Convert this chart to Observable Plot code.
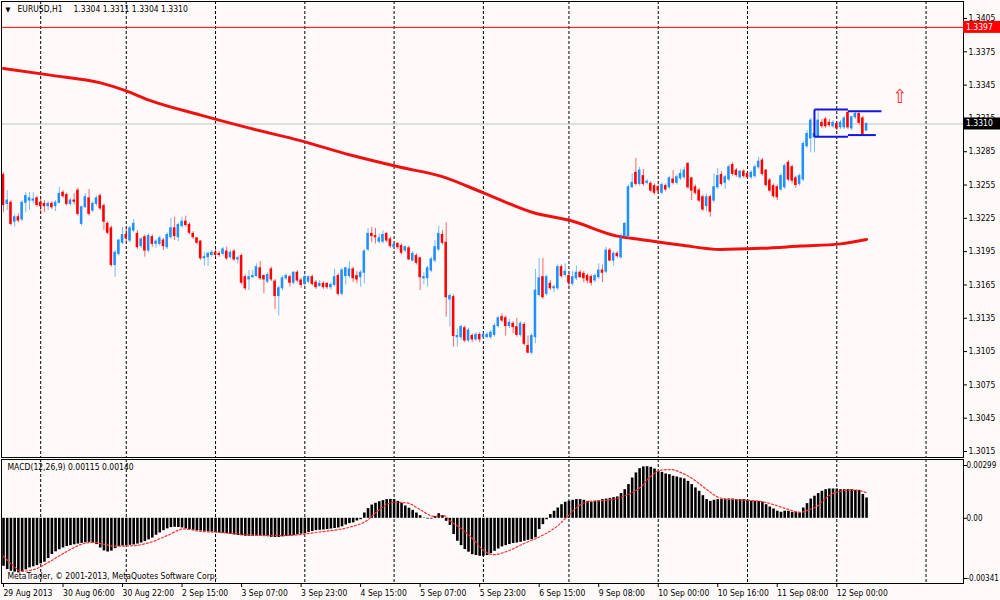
<!DOCTYPE html>
<html><head><meta charset="utf-8">
<script src="https://cdn.jsdelivr.net/npm/d3@7"></script>
<script src="https://cdn.jsdelivr.net/npm/@observablehq/plot@0.6"></script>
<style>
body{margin:0;background:#fffafa;}
#chart{width:1000px;height:600px;overflow:hidden;background:#fffafa;}
#chart svg{display:block;}
</style></head><body><div id="chart"></div>
<script>
// ---- data (prices in pips above 1.3000) ----
const openP = [264,238,239,222,226,224,239,241,241,243,239,238,236,238,236,239,248,246,238,241,250,220,235,243,232,238,245,236,220,216,183,193,203,210,205,214,211,200,208,196,208,202,202,205,199,208,216,208,218,222,219,211,207,204,189,190,192,194,193,193,195,190,195,188,
191,172,170,172,173,180,173,168,179,168,155,162,171,172,167,176,169,166,168,172,167,164,166,166,163,165,173,157,173,173,179,173,172,176,197,211,209,204,204,211,206,199,202,200,196,198,187,191,189,171,171,178,187,197,210,203,152,154,
118,118,126,115,119,116,120,118,118,118,120,128,136,135,128,130,127,120,129,110,104,118,156,172,157,166,162,162,181,174,173,166,171,176,175,173,172,169,172,178,177,196,187,193,190,209,209,253,266,256,263,257,256,254,253,248,254,253,260,257,261,262,274,261,253,250,244,236,244,241,253,264,257,260,273,268,262,267,265,262,263,271,277,268,259,254,253,251,253,275,271,261,256,260,290,297,298,299,311,314,311,308,310,307,307,320,306,316,319,315,304];
const highP = [266,250,241,228,229,241,248,248,248,245,242,241,240,240,241,253,250,248,243,247,252,236,247,251,240,245,247,238,222,218,196,206,217,216,218,224,214,208,210,211,210,206,209,207,212,225,226,221,226,227,221,213,208,205,194,195,196,197,195,199,199,196,197,191,
193,174,178,178,184,186,174,176,181,170,164,173,175,174,177,178,171,174,173,174,169,169,168,167,167,179,175,180,181,186,181,177,178,197,216,217,216,211,214,212,208,203,203,202,200,200,195,193,190,176,182,190,205,218,214,221,157,156,
125,129,128,126,121,122,122,122,122,124,130,137,139,137,134,132,135,132,131,119,121,179,189,189,174,169,165,183,183,184,175,177,182,178,177,175,174,175,184,183,199,198,195,195,211,221,255,265,279,271,269,260,258,256,255,257,256,263,268,264,269,271,275,262,255,252,246,247,246,265,270,267,264,273,275,270,268,269,267,268,273,280,279,269,261,256,255,265,274,277,273,263,265,294,304,315,320,321,314,316,314,313,312,313,317,321,317,321,320,317,311];
const lowP = [230,232,218,217,221,222,230,232,238,235,230,230,232,233,231,238,243,236,236,237,227,218,234,227,230,236,232,214,210,181,172,191,201,203,203,212,197,198,190,194,199,198,200,196,197,206,205,204,216,217,210,206,201,187,182,182,190,190,190,191,187,188,186,184,
165,160,160,171,172,169,157,166,168,143,137,160,169,163,165,167,162,164,166,164,161,163,161,161,160,163,155,155,165,171,167,166,163,166,195,203,202,202,202,203,198,197,197,192,194,187,186,183,160,165,163,176,185,195,201,136,127,109,
109,115,113,113,113,114,113,116,117,116,118,126,131,119,126,121,118,118,110,103,102,112,154,152,155,160,158,160,171,172,163,164,169,171,167,166,164,167,170,167,175,186,182,189,188,207,207,252,254,254,254,255,248,246,247,246,249,251,255,255,259,260,251,241,246,239,231,231,226,239,251,254,251,258,263,262,260,261,260,260,261,269,263,253,248,243,241,249,251,258,256,252,254,258,288,284,284,297,306,306,307,306,304,305,305,305,304,314,309,299,304];
const closeP = [237,241,220,226,223,239,245,243,242,237,236,236,238,235,239,247,245,238,241,240,229,235,244,229,238,243,234,222,212,183,194,205,210,207,216,220,199,206,196,209,202,204,207,200,210,216,209,219,222,219,212,208,203,189,190,193,194,192,192,197,189,194,188,189,
167,162,172,173,181,171,170,174,170,155,162,171,173,167,176,169,165,172,172,166,163,166,163,163,165,172,157,178,180,179,171,170,176,195,211,209,208,207,210,205,200,201,199,194,199,188,193,185,172,172,180,188,199,211,203,154,155,119,
119,127,115,124,116,120,116,120,120,122,128,135,133,128,131,127,120,130,112,104,119,160,171,154,172,162,163,181,173,177,167,172,176,172,171,169,167,173,178,176,196,187,193,191,207,220,253,257,256,268,256,258,250,248,250,255,251,261,257,262,265,268,253,250,248,241,233,244,231,253,263,256,262,271,265,264,267,263,262,266,271,276,265,255,250,245,244,263,272,260,259,255,263,292,301,313,301,313,308,308,309,311,306,311,315,307,316,319,311,301,310];

// moving average (red line), read at bar positions
const maIdx = [0,12.6,26.1,32.8,39.5,53,66.4,79.8,93.3,106.7,117.5,129,142.5,152.4,165,171.2,182,192.7,203.5,214.2,225,232];
const maVal = [360,354,347,340,331,318,306,295,282,271,263,248,230,223,209,206,201,197,198,200,202,206];

// MACD histogram (units of 0.00001)
const macdVal = [-272,-290,-300,-305,-309,-303,-292,-281,-275,-268,
-258,-249,-228,-205,-190,-178,-168,-160,-155,-150,
-146,-142,-139,-136,-140,-149,-168,-185,-191,-186,
-172,-160,-157,-155,-153,-151,-146,-140,-132,-122,
-112,-96,-83,-70,-60,-53,-51,-52,-55,-60,
-64,-68,-70,-72,-74,-76,-79,-81,-83,-85,
-87,-90,-94,-97,-99,-102,-102,-102,-102,-102,
-102,-104,-108,-109,-109,-105,-102,-100,-98,-94,
-90,-87,-80,-75,-70,-68,-66,-64,-61,-58,
-55,-48,-38,-30,-26,-15,-8,30,55,75,
85,94,100,106,107,106,96,85,70,57,
45,30,15,2,-4,-4,10,26,15,-17,
-40,-92,-130,-155,-177,-192,-206,-211,-215,-215,
-211,-200,-187,-174,-162,-155,-149,-143,-140,-136,
-130,-125,-121,-111,-64,-36,-8,21,40,58,
77,91,96,102,106,106,102,96,91,96,
100,106,109,113,117,121,140,162,191,228,
257,281,291,292,289,279,266,260,251,247,
238,234,228,223,209,191,172,153,128,106,
96,102,106,106,106,109,109,106,106,106,
102,96,96,96,91,77,64,53,40,34,
40,40,34,34,30,58,83,109,125,140,
153,162,166,166,166,162,162,162,162,158,
158,135,115];

// signal line (units of 0.00001), read at bar positions
const sigIdx = [0,2.8,4.6,8.2,12.6,17.1,21.6,24.3,26.1,30.6,35,39.5,44,48.5,53,57.4,62,66.4,70.9,75.4,79.8,84.3,88.8,93.3,97.8,100.5,105,108.5,112,115.7,118.4,120.2,122.8,126.4,129,131.7,135.4,139.9,144.4,148.8,151.5,155.1,157.8,162.3,166.8,171.3,174,176.6,179.3,182,185.6,189.1,192.7,196.3,199.9,203.5,207.1,210.6,214.2,216,218.7,221.4,225,228.6,232];
const sigVal = [-215,-272,-300,-290,-243,-187,-143,-136,-143,-158,-155,-136,-98,-60,-74,-79,-87,-94,-98,-98,-92,-79,-68,-49,-11,40,91,87,49,11,15,-17,-55,-121,-181,-206,-187,-143,-102,-45,8,77,96,102,125,177,238,272,276,260,219,162,115,106,102,96,77,53,34,45,68,121,153,160,145];

// axes / labels
const priceTicks = [1.3015,1.3045,1.3075,1.3105,1.3135,1.3165,1.3195,1.3225,1.3255,1.3285,1.3315,1.3345,1.3375,1.3405];
const macdTicks = [0.00299,0,-0.00341];
const macdTickLabels = ["0.00299","0.00","-0.00341"];
const dateTickIdx = [0,16,32,48,64,80,96,112,128,144,160,176,192,208,224];
const dateLabels = ["29 Aug 2013","30 Aug 06:00","30 Aug 22:00","2 Sep 15:00","3 Sep 07:00","3 Sep 23:00","4 Sep 15:00","5 Sep 07:00","5 Sep 23:00","6 Sep 15:00","9 Sep 08:00","10 Sep 00:00","10 Sep 16:00","11 Sep 08:00","12 Sep 00:00"];
const gridIdx = [10,33,57,81,105,129,152,176,200,224,248];
const levelPrice = 1.3397;
const bidPrice = 1.3310;
// channel object (bar index, pips)
const chanX1 = [218,227,218,227,218];
const chanX2 = [227,236,227,234.5,218];
const chanY1 = [323,321.5,298.5,300,298.5];
const chanY2 = [323,321.5,298.5,300,323];
const arrowIdx = 241, arrowPip = 334;
const symbolText = "EURUSD,H1";
const macdText = "MACD(12,26,9) 0.00115 0.00140";
const copyText = "MetaTrader, © 2001-2013, MetaQuotes Software Corp.";

// ---- build ----
const P = v => 1.3 + v / 10000;
const bars = closeP.map((c, i) => ({i, o: P(openP[i]), h: P(highP[i]), l: P(lowP[i]), c: P(c), up: c >= openP[i]}));
const ma = maIdx.map((x, k) => ({x, y: P(maVal[k])}));
const macd = macdVal.map((v, i) => ({i, v: v / 1e5}));
const sig = sigIdx.map((x, k) => ({x, y: sigVal[k] / 1e5}));
const chan = chanX1.map((x, k) => ({x1: x, x2: chanX2[k], y1: P(chanY1[k]), y2: P(chanY2[k])}));
const last = bars[bars.length - 1];
const hdr = [last.o, last.h, last.l, last.c].map(v => v.toFixed(4)).join(" ");

const FONT = "Tahoma, 'DejaVu Sans Condensed', 'Liberation Sans', sans-serif";
const STEP = 3.72;
const xOpt = {domain: [0, 240], range: [3, 3 + 240 * STEP], axis: null};
const BLUE = "#1e90ff", RED = "#ff0000";

const main = Plot.plot({
  width: 1000, height: 458,
  marginTop: 1, marginLeft: 1, marginRight: 37, marginBottom: 1,
  style: {background: "#fffafa", fontFamily: FONT, fontSize: "8.5px", color: "#000"},
  x: xOpt,
  y: {domain: [1.3015, 1.3405], range: [451, 18]},
  color: {type: "identity"},
  marks: [
    Plot.ruleX(gridIdx, {stroke: "#000", strokeDasharray: "3,2"}),
    Plot.ruleY([levelPrice], {stroke: "#ff0000"}),
    Plot.ruleY([bidPrice], {stroke: "#c0c0c0"}),
    Plot.line(ma, {x: "x", y: "y", stroke: "#f01010", strokeWidth: 3, curve: "monotone-x"}),
    Plot.ruleX(bars, {x: "i", y1: "l", y2: "h", stroke: d => d.up ? BLUE : RED, strokeOpacity: 0.6}),
    Plot.rect(bars, {x1: d => d.i - 0.34, x2: d => d.i + 0.34, y1: "o", y2: "c", fill: d => d.up ? BLUE : RED, insetTop: -0.5, insetBottom: -0.5}),
    Plot.link(chan, {x1: "x1", x2: "x2", y1: "y1", y2: "y2", stroke: "#1515e0", strokeWidth: 2}),
    Plot.text(["⇧"], {x: [arrowIdx], y: [P(arrowPip)], fill: "#ff2020", fontSize: 19}),
    Plot.axisY({anchor: "right", ticks: priceTicks, tickFormat: d => d.toFixed(4), tickSize: 3, tickPadding: 2, label: null}),
    Plot.frame({stroke: "#000"}),
    Plot.text(["▼"], {frameAnchor: "top-left", dx: 4, dy: 8, textAnchor: "start", lineAnchor: "middle", fontSize: 7}),
    Plot.text([symbolText], {frameAnchor: "top-left", dx: 16, dy: 8, textAnchor: "start", lineAnchor: "middle"}),
    Plot.text([hdr], {frameAnchor: "top-left", dx: 72, dy: 8, textAnchor: "start", lineAnchor: "middle"})
  ]
});

// price label boxes on the right axis (placed with the plot's own y scale)
const ys = main.scale("y");
const g = d3.select(main).append("g").attr("font-family", FONT).attr("font-size", "8.5px").attr("text-anchor", "start");
[[levelPrice, "#ff0000"], [bidPrice, "#000000"]].forEach(([p, col]) => {
  const yy = ys.apply(p);
  g.append("rect").attr("x", 963).attr("y", yy - 6).attr("width", 37).attr("height", 12).attr("fill", col);
  g.append("text").attr("x", 966).attr("y", yy).attr("dy", "0.32em").attr("fill", "#fff").attr("text-anchor", "start").text(p.toFixed(4));
});

const macdPlot = Plot.plot({
  width: 1000, height: 142,
  marginTop: 1, marginLeft: 1, marginRight: 37, marginBottom: 17,
  style: {background: "#fffafa", fontFamily: FONT, fontSize: "8.5px", color: "#000"},
  x: xOpt,
  y: {domain: [-0.00341, 0.00299], range: [120, 7]},
  marks: [
    Plot.ruleX(gridIdx, {stroke: "#000", strokeDasharray: "3,2"}),
    Plot.ruleX(macd, {x: "i", y1: 0, y2: "v", stroke: "#000", strokeWidth: 2.6}),
    Plot.line(sig, {x: "x", y: "y", stroke: "#ff3030", strokeWidth: 1.2, strokeDasharray: "2,2", curve: "monotone-x"}),
    Plot.axisY({anchor: "right", ticks: macdTicks, tickFormat: d => macdTickLabels[macdTicks.indexOf(d)], tickSize: 3, tickPadding: 0, fontSize: 8, label: null}),
    Plot.axisX({anchor: "bottom", ticks: dateTickIdx, tickFormat: d => dateLabels[dateTickIdx.indexOf(d)], tickSize: 4, tickPadding: 2, textAnchor: "start", label: null}),
    Plot.frame({stroke: "#000"}),
    Plot.text([macdText], {frameAnchor: "top-left", dx: 6, dy: 8, textAnchor: "start", lineAnchor: "middle"}),
    Plot.text([copyText], {frameAnchor: "bottom-left", dx: 6, dy: -7, textAnchor: "start", lineAnchor: "middle"})
  ]
});

document.getElementById("chart").append(main, macdPlot);
</script>
</body></html>
